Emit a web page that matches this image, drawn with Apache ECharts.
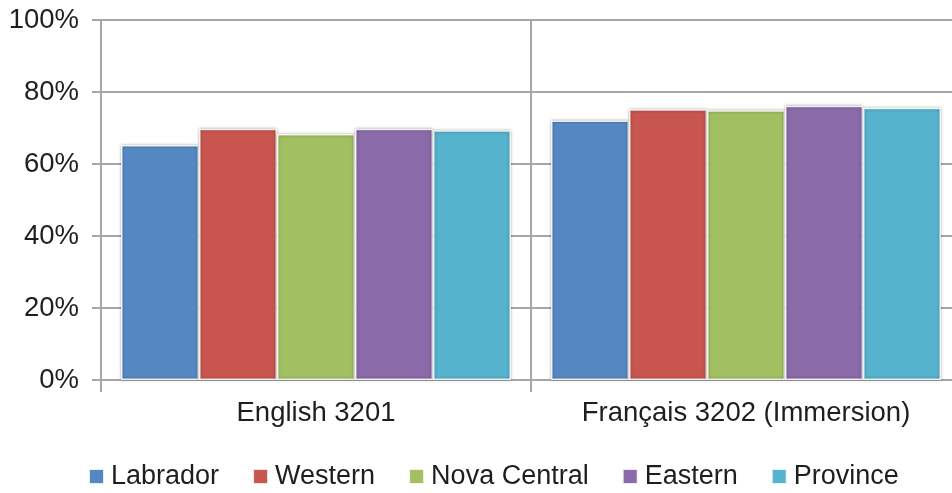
<!DOCTYPE html>
<html>
<head>
<meta charset="utf-8">
<script src="https://cdn.jsdelivr.net/npm/echarts@6/dist/echarts.min.js"></script>
<style>
html,body{margin:0;padding:0;background:#fff;}
#chart{width:952px;height:493px;}
</style>
</head>
<body>
<div id="chart"></div>
<script>
const categories = ["English 3201", "Français 3202 (Immersion)"];
const regionNames = ["Labrador", "Western", "Nova Central", "Eastern", "Province"];
const labrador = [65.3, 72.1];
const western = [69.8, 75.2];
const novaCentral = [68.3, 74.9];
const eastern = [69.8, 76.2];
const province = [69.4, 75.6];
const yTicks = [0, 20, 40, 60, 80, 100];

const regionValues = [labrador, western, novaCentral, eastern, province];
const colors = ["#5588C3", "#C8564F", "#A2C062", "#8A6AA8", "#55B3CE"];
const font = "'Liberation Sans', Arial, sans-serif";
const axisGray = "#a6a6a6";
const textColor = "#1e1e1e";

const chart = echarts.init(document.getElementById('chart'), null, {renderer: 'canvas'});
chart.setOption({
  animation: false,
  color: colors,
  textStyle: {fontFamily: font},
  grid: {left: 101, width: 860, top: 20, height: 360, containLabel: false, outerBoundsMode: 'none'},
  legend: {
    left: 83, top: 458,
    itemWidth: 15, itemHeight: 15, itemGap: 33,
    icon: 'rect',
    textStyle: {fontFamily: font, fontSize: 27, color: textColor, padding: [0,0,0,2]},
    data: regionNames
  },
  xAxis: {
    type: 'category',
    data: categories,
    boundaryGap: true,
    axisLine: {lineStyle: {color: axisGray, width: 2}},
    axisTick: {show: true, interval: 0, length: 12, lineStyle: {color: axisGray, width: 2}},
    splitLine: {show: true, interval: 0, lineStyle: {color: axisGray, width: 2}},
    axisLabel: {interval: 0, hideOverlap: false, fontFamily: font, fontSize: 27.5, color: textColor, margin: 19}
  },
  yAxis: {
    type: 'value',
    min: yTicks[0], max: yTicks[yTicks.length-1], interval: yTicks[1]-yTicks[0],
    axisLine: {show: true, lineStyle: {color: axisGray, width: 2}},
    axisTick: {show: true, length: 9, lineStyle: {color: axisGray, width: 2}},
    splitLine: {show: true, lineStyle: {color: axisGray, width: 2}},
    axisLabel: {fontFamily: font, fontSize: 27.5, color: textColor, margin: 22, formatter: '{value}%'}
  },
  series: regionNames.map((name, i) => ({
    name: name,
    type: 'bar',
    data: regionValues[i],
    barWidth: 78,
    barGap: '0%',
    itemStyle: {
      color: colors[i],
      borderColor: 'rgba(255,255,255,0.85)',
      borderWidth: 1.5,
      shadowColor: 'rgba(0,0,0,0.4)',
      shadowBlur: 3
    }
  }))
});
</script>
</body>
</html>
